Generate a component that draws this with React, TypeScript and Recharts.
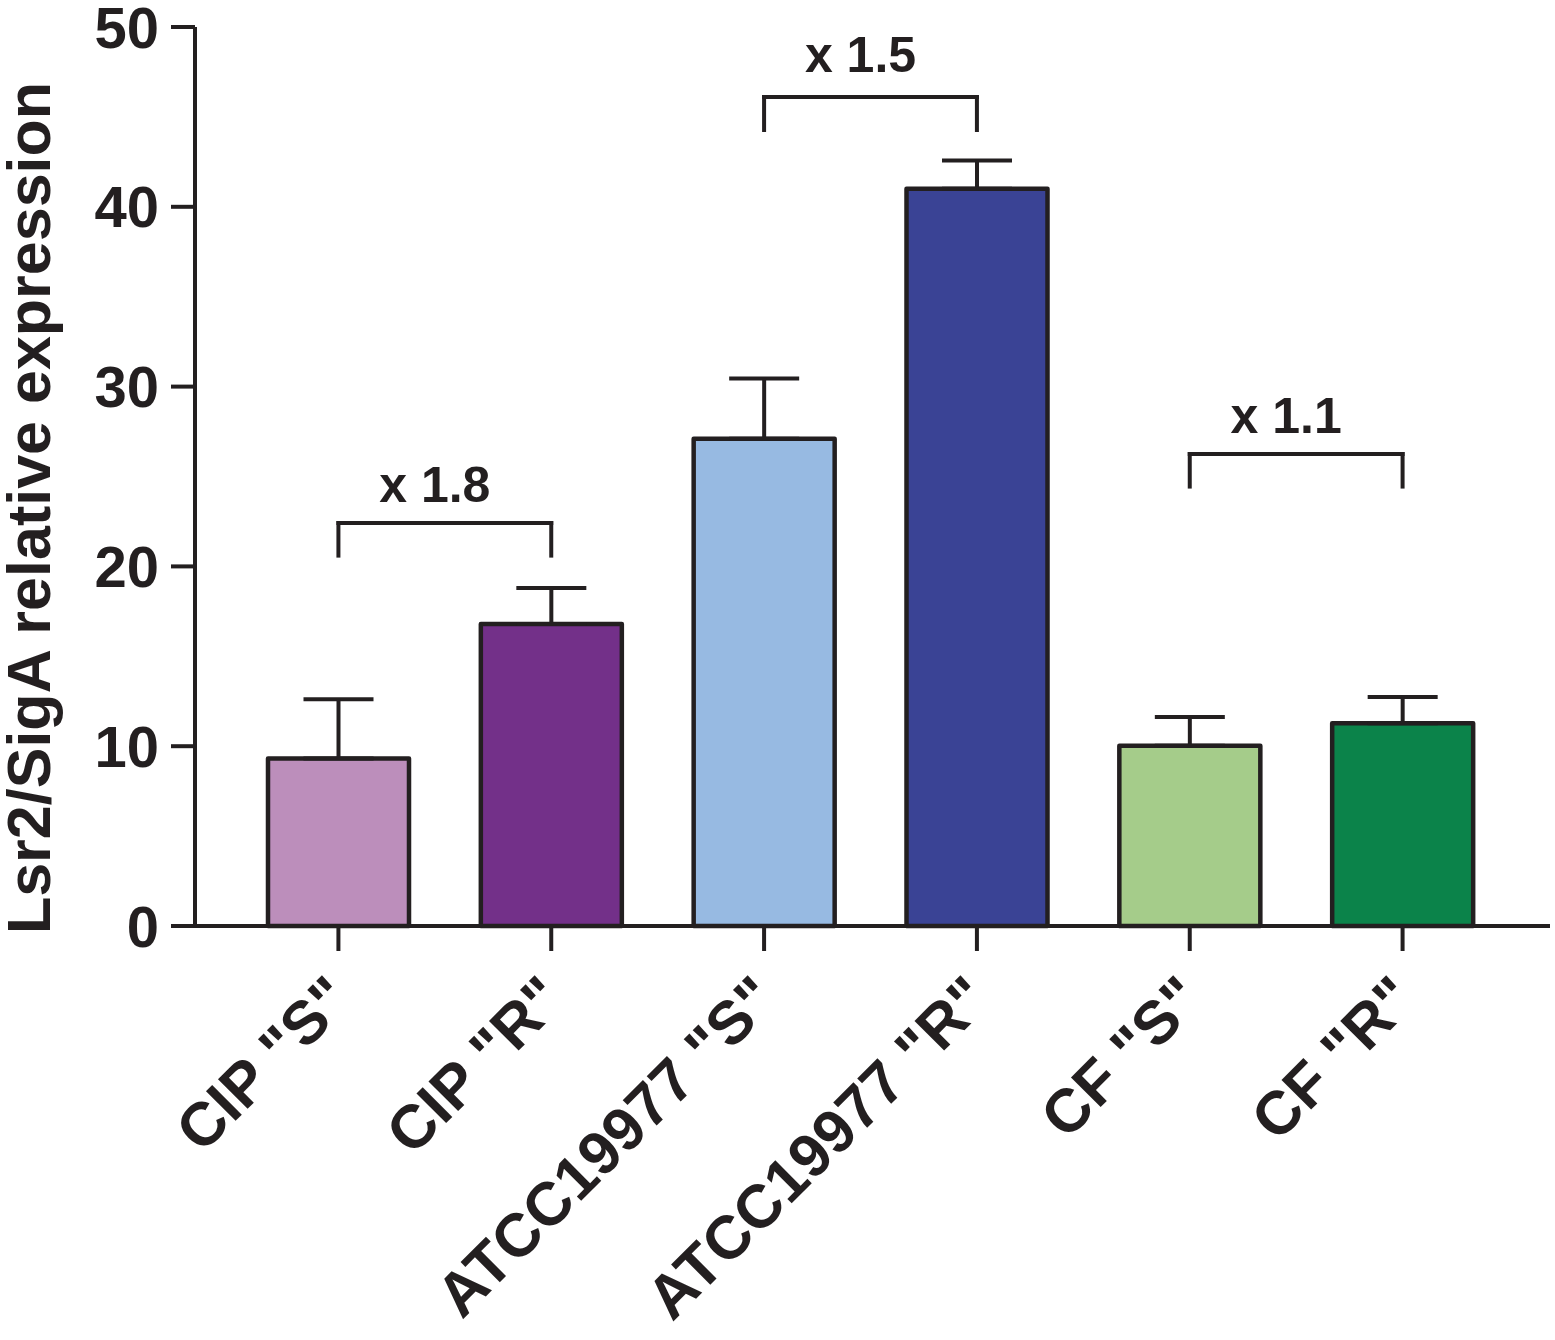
import React from "react";
import {
  BarChart,
  Bar,
  Cell,
  XAxis,
  YAxis,
  ErrorBar,
  ReferenceLine,
} from "recharts";

// values
const categories = ['CIP "S"', 'CIP "R"', 'ATCC19977 "S"', 'ATCC19977 "R"', 'CF "S"', 'CF "R"'];
const means = [9.31, 16.8, 27.1, 41.0, 10.02, 11.28];
const sems = [3.3, 2.0, 3.35, 1.58, 1.6, 1.45];
const barColors = ["#bc8ebb", "#733089", "#97bae2", "#3a4395", "#a5cc8a", "#0b834a"];
const yTicks = [0, 10, 20, 30, 40, 50];

// fold-change brackets
const bracketFrom = ['CIP "S"', 'ATCC19977 "S"', 'CF "S"'];
const bracketTo = ['CIP "R"', 'ATCC19977 "R"', 'CF "R"'];
const bracketTop = [22.41, 46.1, 26.25];
const bracketLeg = [20.6, 44.27, 24.44];
const foldLabels = ["x 1.8", "x 1.5", "x 1.1"];
const foldLabelY = [23.58, 47.5, 27.42];

const INK = "#231f20";
const FONT = '"Liberation Sans", Arial, Helvetica, sans-serif';

const data = categories.map((name, i) => ({
  name,
  mean: means[i],
  err: [0, sems[i]],
}));

const XTick = (props: any) => {
  const { x, y, payload } = props;
  return (
    <g transform={`translate(${x},${y})`}>
      <text
        x={16}
        y={51}
        transform="rotate(-45, 16, 51)"
        textAnchor="end"
        fontSize={61}
        fontWeight="bold"
        fontFamily={FONT}
        fill={INK}
      >
        {payload.value}
      </text>
    </g>
  );
};

const yLabel = () => (
  <text
    x={50}
    y={508}
    transform="rotate(-90, 50, 508)"
    textAnchor="middle"
    fontSize={61}
    fontWeight="bold"
    fontFamily={FONT}
    fill={INK}
  >
    Lsr2/SigA relative expression
  </text>
);

const foldText = (text: string) => (props: any) => {
  const vb = props.viewBox || {};
  return (
    <text
      x={vb.x + vb.width / 2 - 10}
      y={vb.y}
      textAnchor="middle"
      fontSize={50}
      fontWeight="bold"
      fontFamily={FONT}
      fill={INK}
    >
      {text}
    </text>
  );
};

export default function App() {
  const line = { stroke: INK, strokeWidth: 4, strokeLinecap: "square" as const };

  return (
    <div style={{ position: "absolute", left: 0, top: 0, background: "#fff" }}>
      <BarChart
        width={1555}
        height={1340}
        data={data}
        margin={{ top: 27, right: 5, bottom: 0, left: 0 }}
      >
        <XAxis
          dataKey="name"
          interval={0}
          height={414}
          padding={{ left: 37, right: 41 }}
          tickSize={25}
          tickMargin={0}
          axisLine={{ stroke: INK, strokeWidth: 4 }}
          tickLine={{ stroke: INK, strokeWidth: 4 }}
          tick={<XTick />}
        />
        <YAxis
          width={195}
          domain={[0, 50]}
          ticks={yTicks}
          interval={0}
          tickSize={24}
          tickMargin={12}
          axisLine={{ stroke: INK, strokeWidth: 4 }}
          tickLine={{ stroke: INK, strokeWidth: 4 }}
          tick={{ fontSize: 58, fontWeight: "bold", fill: INK, fontFamily: FONT }}
          label={{ content: yLabel }}
        />
        <Bar
          dataKey="mean"
          barSize={141}
          stroke={INK}
          strokeWidth={4.5}
          strokeLinejoin="round"
          isAnimationActive={false}
        >
          {data.map((d, i) => (
            <Cell key={d.name} fill={barColors[i]} />
          ))}
          <ErrorBar
            dataKey="err"
            direction="y"
            width={35}
            stroke={INK}
            strokeWidth={4}
            isAnimationActive={false}
          />
        </Bar>

        {foldLabels.map((lab, i) => (
          <React.Fragment key={lab}>
            <ReferenceLine
              segment={[
                { x: bracketFrom[i], y: bracketLeg[i] },
                { x: bracketFrom[i], y: bracketTop[i] },
              ]}
              {...line}
            />
            <ReferenceLine
              segment={[
                { x: bracketFrom[i], y: bracketTop[i] },
                { x: bracketTo[i], y: bracketTop[i] },
              ]}
              {...line}
            />
            <ReferenceLine
              segment={[
                { x: bracketTo[i], y: bracketTop[i] },
                { x: bracketTo[i], y: bracketLeg[i] },
              ]}
              {...line}
            />
            <ReferenceLine
              segment={[
                { x: bracketFrom[i], y: foldLabelY[i] },
                { x: bracketTo[i], y: foldLabelY[i] },
              ]}
              stroke="none"
              label={{ content: foldText(lab) }}
            />
          </React.Fragment>
        ))}
      </BarChart>
    </div>
  );
}
